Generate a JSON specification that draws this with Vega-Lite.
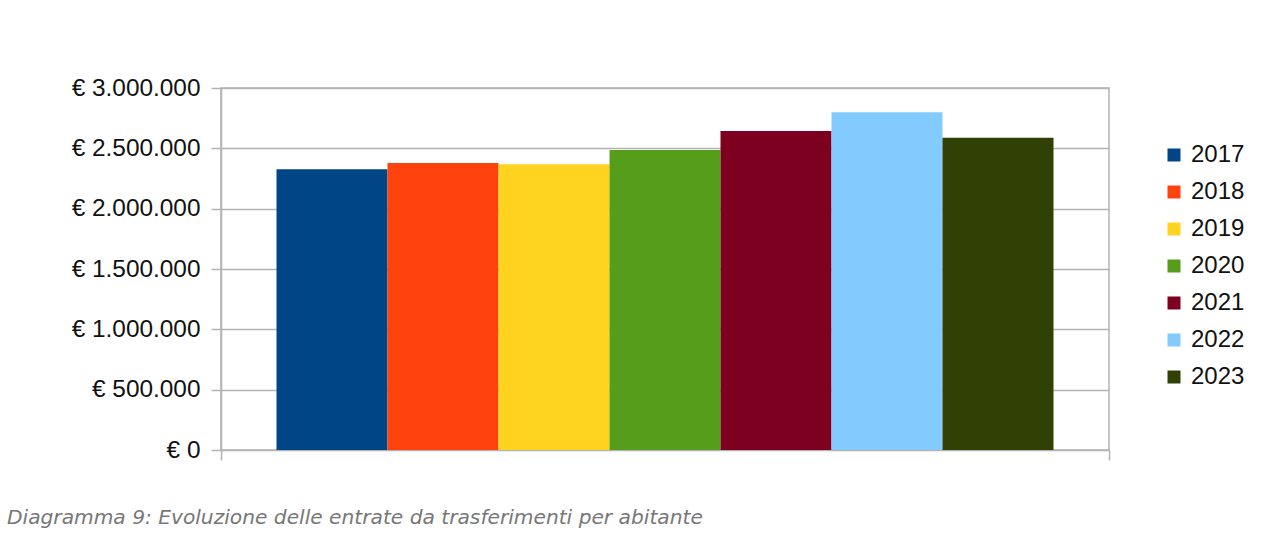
{
  "$schema": "https://vega.github.io/schema/vega-lite/v6.json",
  "width": 888,
  "height": 362,
  "autosize": {"type": "none"},
  "padding": {"left": 221, "top": 88, "right": 153, "bottom": 85},
  "background": "white",
  "config": {
    "locale": {"number": {"decimal": ",", "thousands": ".", "grouping": [3], "currency": ["€ ", ""]}},
    "view": {"stroke": "#b3b3b3", "strokeWidth": 1.5},
    "font": "Liberation Sans"
  },
  "title": {
    "text": "Diagramma 9: Evoluzione delle entrate da trasferimenti per abitante",
    "orient": "bottom",
    "anchor": "start",
    "frame": "group",
    "dx": -214,
    "offset": 47,
    "font": "DejaVu Sans",
    "fontStyle": "italic",
    "fontWeight": "normal",
    "fontSize": 20.2,
    "color": "#777777"
  },
  "data": {
    "values": [
      {"group": "A", "year": "2017", "value": 2326000},
      {"group": "A", "year": "2018", "value": 2378000},
      {"group": "A", "year": "2019", "value": 2368000},
      {"group": "A", "year": "2020", "value": 2486000},
      {"group": "A", "year": "2021", "value": 2643000},
      {"group": "A", "year": "2022", "value": 2800000},
      {"group": "A", "year": "2023", "value": 2588000}
    ]
  },
  "mark": {"type": "bar"},
  "encoding": {
    "x": {
      "field": "group",
      "type": "nominal",
      "scale": {"paddingInner": 0, "paddingOuter": 0},
      "axis": {
        "labels": false,
        "title": null,
        "tickBand": "extent",
        "tickSize": 10,
        "tickColor": "#b3b3b3",
        "tickWidth": 1.5,
        "domain": false,
        "grid": false
      }
    },
    "xOffset": {
      "field": "year",
      "type": "nominal",
      "scale": {"paddingInner": 0, "paddingOuter": 0.5}
    },
    "y": {
      "field": "value",
      "type": "quantitative",
      "scale": {"domain": [0, 3000000], "nice": false},
      "axis": {
        "values": [0, 500000, 1000000, 1500000, 2000000, 2500000, 3000000],
        "format": "$,.0f",
        "title": null,
        "labelFontSize": 24.4,
        "labelColor": "#111111",
        "labelPadding": 11,
        "tickSize": 10,
        "tickColor": "#b3b3b3",
        "tickWidth": 1.5,
        "domainColor": "#b3b3b3",
        "domainWidth": 1.5,
        "gridColor": "#b3b3b3",
        "gridWidth": 1.5
      }
    },
    "color": {
      "field": "year",
      "type": "nominal",
      "scale": {
        "domain": ["2017", "2018", "2019", "2020", "2021", "2022", "2023"],
        "range": ["#004586", "#ff420e", "#ffd320", "#579d1c", "#7e0021", "#83caff", "#314004"]
      },
      "legend": {
        "orient": "none",
        "legendX": 941,
        "legendY": 55,
        "title": null,
        "symbolType": "square",
        "symbolSize": 169,
        "symbolStrokeWidth": 0,
        "labelFontSize": 24,
        "labelColor": "#111111",
        "labelOffset": 5,
        "rowPadding": 13
      }
    }
  }
}
